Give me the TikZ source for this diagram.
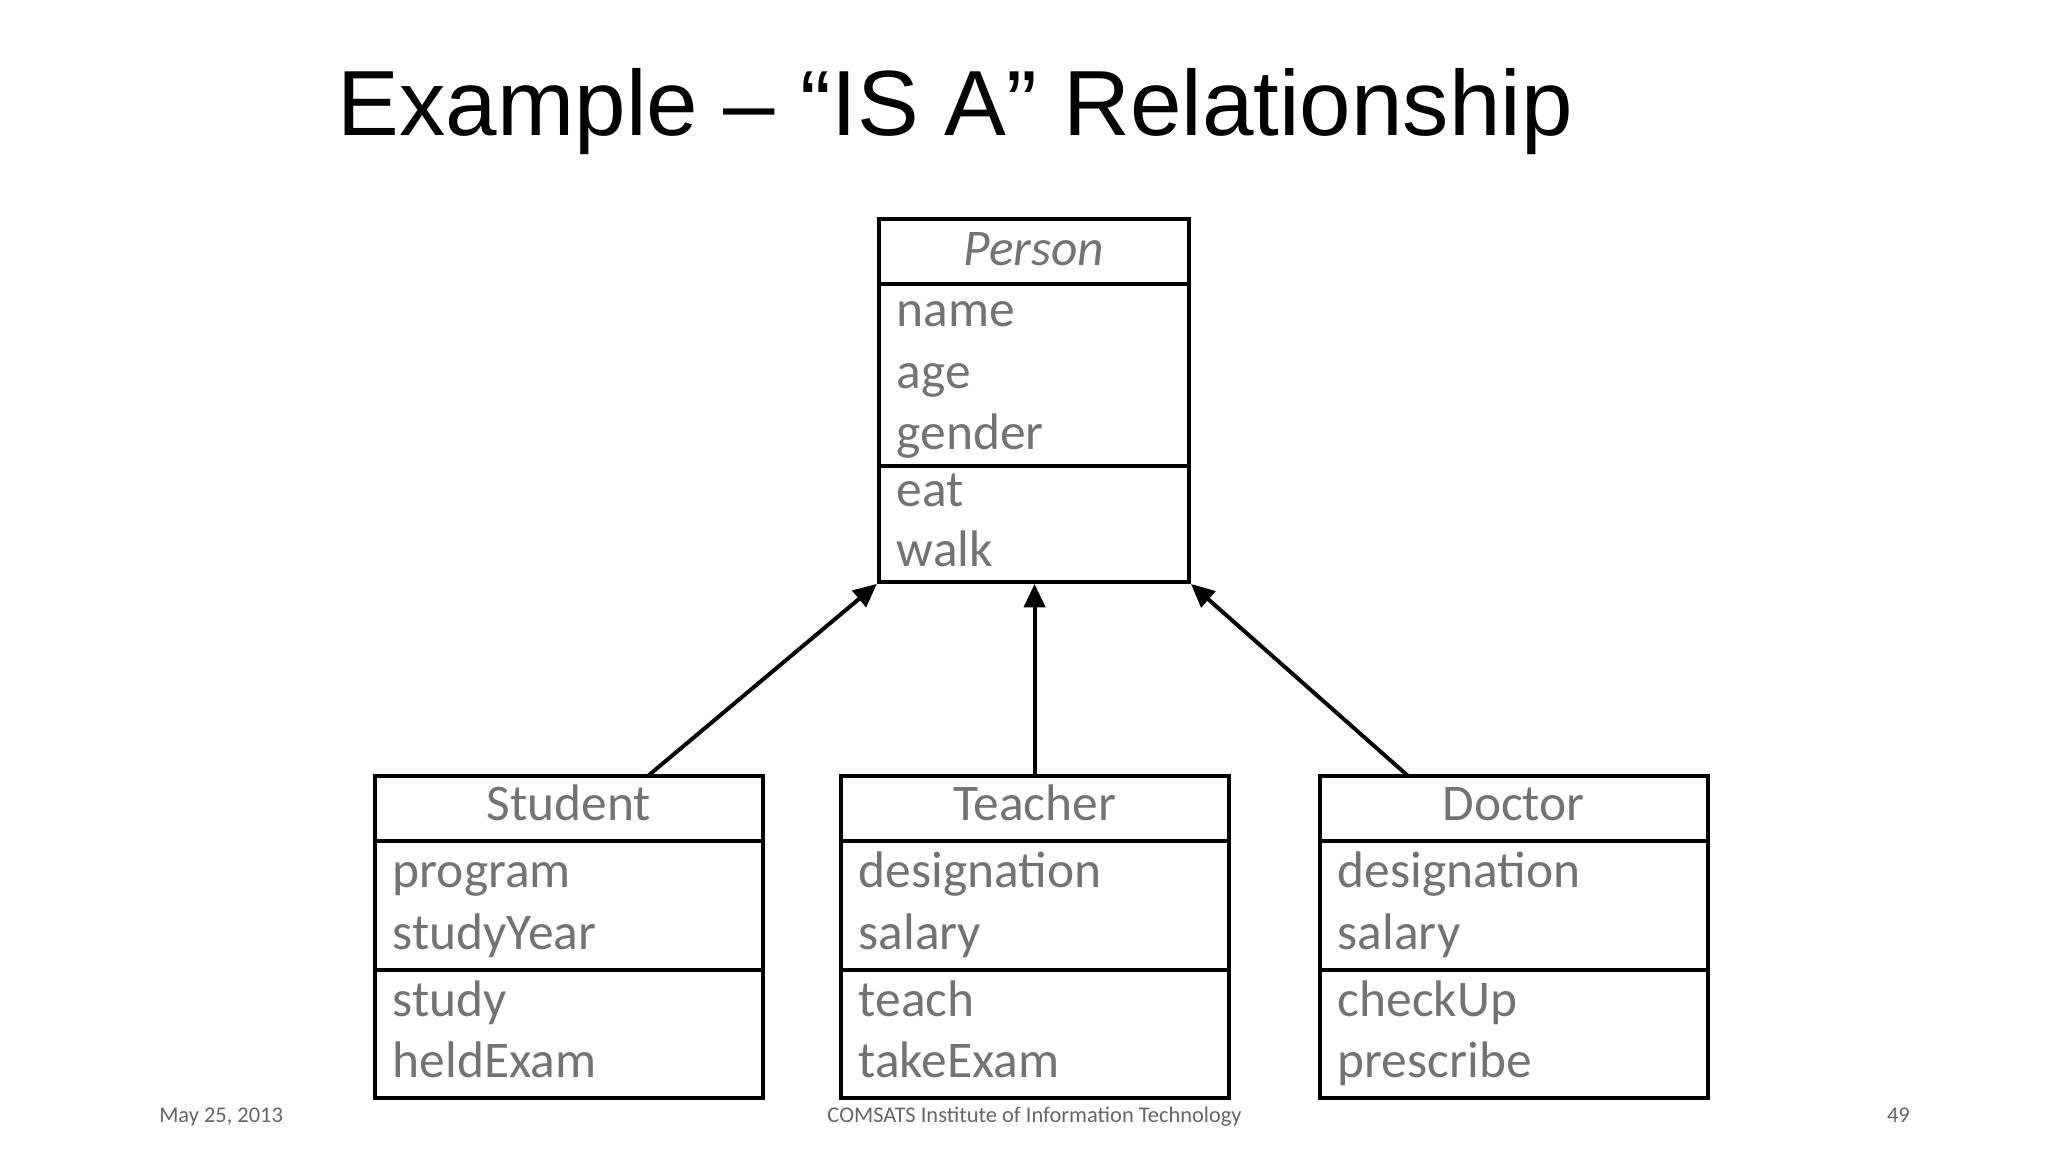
\documentclass[tikz,border=0pt]{standalone}
\usepackage{fontspec}
\setmainfont{Carlito}
\newfontfamily\titlefont{Liberation Sans}
\usetikzlibrary{arrows.meta}
\begin{document}
\begin{tikzpicture}[x=0.0992mm,y=-0.0992mm,
  box/.style={draw,line width=0.85pt,inner sep=0pt},
  txt/.style={anchor=mid west,inner sep=0pt,text=black!55,font=\fontsize{11pt}{12pt}\selectfont},
  hd/.style={anchor=mid,inner sep=0pt,text=black!55,font=\fontsize{11pt}{12pt}\selectfont},
  div/.style={line width=0.85pt},
  arr/.style={line width=0.85pt,-{Triangle[length=5pt,width=4.5pt]}},
  foot/.style={inner sep=0pt,text=black!60,font=\fontsize{4.8pt}{6pt}\selectfont}]
\useasboundingbox (0,0) rectangle (1552,873);
\node[anchor=base,font=\titlefont\fontsize{19.8pt}{21pt}\selectfont] (title) at (724,103) {Example \textendash{} “IS A” Relationship};
% Person
\node[box,minimum width=235*0.0992mm,minimum height=275*0.0992mm] (P) at (783.5,303.5) {};
\draw[div] (666,215) -- (901,215); \draw[div] (666,353) -- (901,353);
\node[hd,font=\fontsize{11pt}{12pt}\selectfont\itshape] (Pt) at (783.5,193) {Person};
\node[txt] (p1) at (679,239) {name};
\node[txt] (p2) at (679,286) {age};
\node[txt] (p3) at (679,332) {gender};
\node[txt] (p4) at (679,375) {eat};
\node[txt] (p5) at (679,421) {walk};
% Student
\node[box,minimum width=294*0.0992mm,minimum height=244*0.0992mm] (S) at (431,710) {};
\draw[div] (284,637) -- (578,637); \draw[div] (284,735) -- (578,735);
\node[hd] (St) at (431,613) {Student};
\node[txt] (s1) at (297,664) {program};
\node[txt] (s2) at (297,711) {studyYear};
\node[txt] (s3) at (297,762) {study};
\node[txt] (s4) at (297,808) {heldExam};
% Teacher
\node[box,minimum width=294*0.0992mm,minimum height=244*0.0992mm] (T) at (784,710) {};
\draw[div] (637,637) -- (931,637); \draw[div] (637,735) -- (931,735);
\node[hd] (Tt) at (784,613) {Teacher};
\node[txt] (t1) at (650,664) {designation};
\node[txt] (t2) at (650,711) {salary};
\node[txt] (t3) at (650,762) {teach};
\node[txt] (t4) at (650,808) {takeExam};
% Doctor
\node[box,minimum width=294*0.0992mm,minimum height=244*0.0992mm] (D) at (1147,710) {};
\draw[div] (1000,637) -- (1294,637); \draw[div] (1000,735) -- (1294,735);
\node[hd] (Dt) at (1147,613) {Doctor};
\node[txt] (d1) at (1013,664) {designation};
\node[txt] (d2) at (1013,711) {salary};
\node[txt] (d3) at (1013,762) {checkUp};
\node[txt] (d4) at (1013,808) {prescribe};
% arrows
\coordinate (sa) at (491,588);
\coordinate (da) at (1067,588);
\draw[arr] (sa) -- (P.south west);
\draw[arr] (T.north) -- (P.south -| T.north);
\draw[arr] (da) -- (P.south east);
% footer
\node[foot,anchor=mid west] (f1) at (120,842) {May 25, 2013};
\node[foot,anchor=mid] (f2) at (784,842) {COMSATS Institute of Information Technology};
\node[foot,anchor=mid east] (f3) at (1448,842) {49};
\end{tikzpicture}
\end{document}
